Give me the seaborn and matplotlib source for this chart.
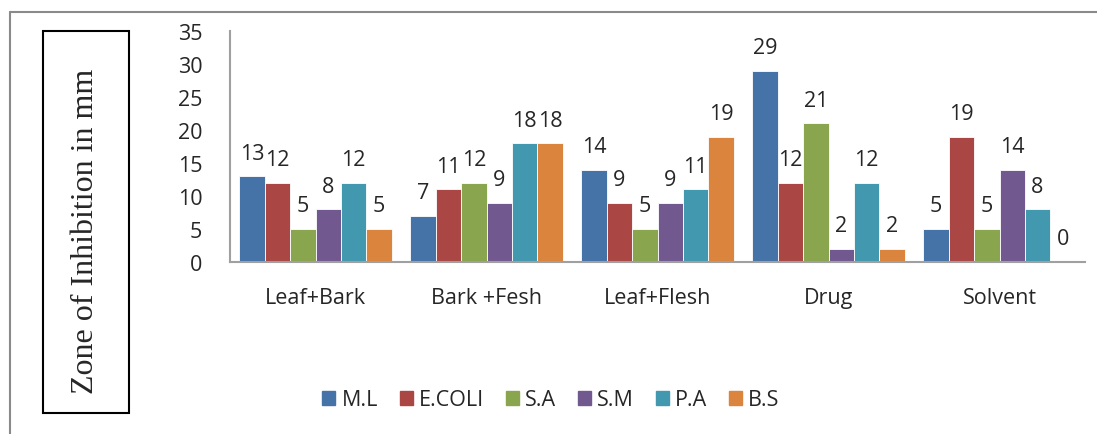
import numpy as np
import pandas as pd
import seaborn as sns
import matplotlib
matplotlib.use("Agg")
from matplotlib import pyplot as plt
from matplotlib.patches import Rectangle
from matplotlib.lines import Line2D

# data
groups = ["Leaf+Bark", "Bark +Fesh", "Leaf+Flesh", "Drug", "Solvent"]
organisms = ["M.L", "E.COLI", "S.A", "S.M", "P.A", "B.S"]
ml = [13, 7, 14, 29, 5]
ecoli = [12, 11, 9, 12, 19]
sa = [5, 12, 5, 21, 5]
sm = [8, 9, 9, 2, 14]
pa = [12, 18, 11, 12, 8]
bs = [5, 18, 19, 2, 0]
colors = ["#4572A7", "#AA4643", "#89A54E", "#71588F", "#4198AF", "#DB843D"]

series = [ml, ecoli, sa, sm, pa, bs]
df = pd.DataFrame({
    "group": groups * len(organisms),
    "organism": [o for o in organisms for _ in groups],
    "zone": [v for s in series for v in s],
})

sns.set_style("white")
plt.rcParams["font.family"] = ["Open Sans", "DejaVu Sans"]

fig = plt.figure(figsize=(10.97, 4.35), dpi=100)
ax = fig.add_axes([230 / 1097, 1 - 263 / 435, 855 / 1097, 231 / 435])

sns.barplot(data=df, x="group", y="zone", hue="organism", order=groups,
            hue_order=organisms, palette=colors, width=0.89, saturation=1,
            edgecolor="white", linewidth=0.6, ax=ax, legend=False)

for cont in ax.containers:
    ax.bar_label(cont, fmt="%d", padding=9, fontsize=15.5)

ax.set_ylim(0, 35)
ax.set_yticks(range(0, 36, 5))
ax.set_xlim(-0.5, 4.5)
ax.set_xlabel("")
ax.set_ylabel("")
ax.tick_params(axis="y", labelsize=15.5, length=0, pad=20)
ax.tick_params(axis="x", labelsize=15.5, length=0, pad=18)
for s in ["top", "right"]:
    ax.spines[s].set_visible(False)
for s in ["left", "bottom"]:
    ax.spines[s].set_color("#a0a0a0")
    ax.spines[s].set_linewidth(1.5)

# y label in its own box
fig.patches.append(Rectangle((43 / 1097, 1 - 414 / 435), 86 / 1097, 382 / 435,
                             transform=fig.transFigure, fill=False,
                             edgecolor="black", linewidth=1.5))
fig.text(86 / 1097, 1 - 231 / 435, "Zone of Inhibition in mm", rotation=90,
         ha="center", va="center", fontsize=23, family="Liberation Serif")

# outer chart border (left and top)
fig.lines.append(Line2D([10 / 1097, 10 / 1097], [0, 1 - 13 / 435],
                        transform=fig.transFigure, color="#8a8a8a", linewidth=1.5))
fig.lines.append(Line2D([10 / 1097, 1], [1 - 13 / 435, 1 - 13 / 435],
                        transform=fig.transFigure, color="#8a8a8a", linewidth=1.5))

handles = [Rectangle((0, 0), 1, 1, color=c) for c in colors]
fig.legend(handles, organisms, loc="center", bbox_to_anchor=(551 / 1097, 1 - 401 / 435),
           ncol=6, frameon=False, fontsize=15.5, handlelength=0.6, handleheight=0.6,
           handletextpad=0.3, columnspacing=1.0)

fig.savefig("out.png", dpi=100)
